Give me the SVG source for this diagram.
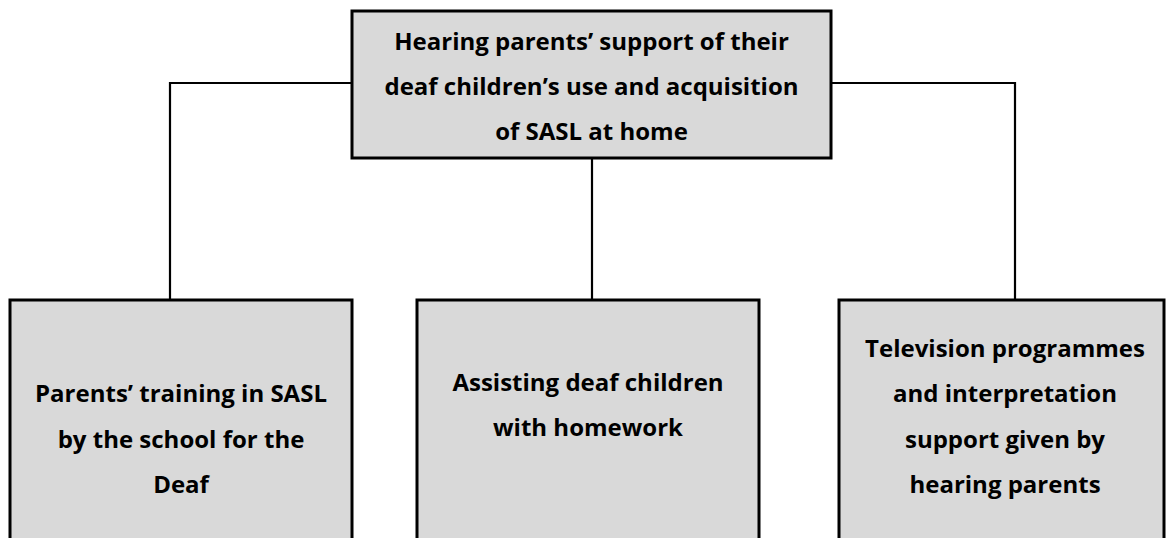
<svg xmlns="http://www.w3.org/2000/svg" width="1174" height="538" viewBox="0 0 1174 538">
<style>
.box{fill:#d9d9d9;stroke:#000;stroke-width:3}
.conn{fill:none;stroke:#000;stroke-width:2.2}
.t{font-family:"Open Sans","Liberation Sans",sans-serif;font-weight:bold;font-size:24px;fill:#000;text-anchor:middle}
</style>
<rect width="1174" height="538" fill="#fff"/>
<g id="connectors">
<polyline class="conn" points="352,83 170,83 170,300"/>
<polyline class="conn" points="831,83 1015,83 1015,300"/>
<line class="conn" x1="592" y1="158" x2="592" y2="300"/>
</g>
<g id="top">
<rect class="box" x="352" y="11" width="479" height="147"/>
<text class="t" x="591.5" y="50">Hearing parents’ support of their</text>
<text class="t" x="591.5" y="95">deaf children’s use and acquisition</text>
<text class="t" x="591.5" y="140">of SASL at home</text>
</g>
<g id="left">
<rect class="box" x="10" y="300" width="342" height="250"/>
<text class="t" x="181" y="402">Parents’ training in SASL</text>
<text class="t" x="181" y="448">by the school for the</text>
<text class="t" x="181" y="493">Deaf</text>
</g>
<g id="middle">
<rect class="box" x="417" y="300" width="342" height="250"/>
<text class="t" x="588" y="391">Assisting deaf children</text>
<text class="t" x="588" y="436">with homework</text>
</g>
<g id="right">
<rect class="box" x="839" y="300" width="325" height="250"/>
<text class="t" x="1005" y="357">Television programmes</text>
<text class="t" x="1005" y="402">and interpretation</text>
<text class="t" x="1005" y="448">support given by</text>
<text class="t" x="1005" y="493">hearing parents</text>
</g>
</svg>
